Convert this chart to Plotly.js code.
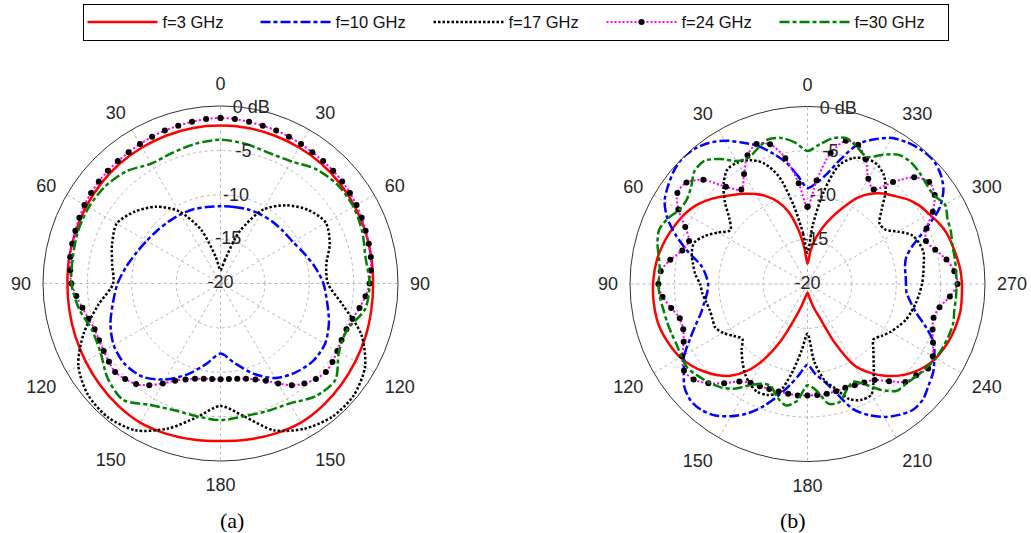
<!DOCTYPE html>
<html>
<head>
<meta charset="utf-8">
<script src="https://cdn.plot.ly/plotly-3.0.1.min.js"></script>
<style>
html,body{margin:0;padding:0;background:#ffffff;}
#chart{width:1031px;height:533px;}
</style>
</head>
<body>
<div id="chart"></div>
<script>
// ---------- categories / tick labels ----------
const angles10 = [0,10,20,30,40,50,60,70,80,90,100,110,120,130,140,150,160,170,180,190,200,210,220,230,240,250,260,270,280,290,300,310,320,330,340,350,360];
const angles5 = [0,5,10,15,20,25,30,35,40,45,50,55,60,65,70,75,80,85,90,95,100,105,110,115,120,125,130,135,140,145,150,155,160,165,170,175,180,185,190,195,200,205,210,215,220,225,230,235,240,245,250,255,260,265,270,275,280,285,290,295,300,305,310,315,320,325,330,335,340,345,350,355,360];
const angTickVals = [0,30,60,90,120,150,180,210,240,270,300,330];
const angTickTextA = ['0','30','60','90','120','150','180','150','120','90','60','30'];
const angTickTextB = ['0','30','60','90','120','150','180','210','240','270','300','330'];
const radialTicks = [-20,-15,-10,-5,0];
const radialTickText = ['-20','-15','-10','-5','0 dB'];
const seriesNames = ['f=3 GHz','f=10 GHz','f=17 GHz','f=24 GHz','f=30 GHz'];
const captions = ['(a)','(b)'];

// ---------- (a) values in dB ----------
const a3 = [-2.2,-2.2,-2.25,-2.3,-2.35,-2.45,-2.55,-2.65,-2.75,-2.8,-2.75,-2.6,-2.45,-2.25,-2.05,-1.9,-2.0,-2.15,-2.25,-2.15,-2.0,-1.9,-2.05,-2.25,-2.45,-2.6,-2.7,-2.75,-2.7,-2.65,-2.55,-2.45,-2.35,-2.3,-2.25,-2.2,-2.2];
const a10 = [-11.3,-11.25,-11.1,-11.0,-10.9,-10.8,-10.6,-10.0,-9.2,-8.4,-7.8,-7.0,-6.4,-6.4,-6.9,-7.7,-9.2,-10.9,-12.1,-10.8,-9.1,-7.5,-6.3,-5.9,-6.1,-6.8,-7.7,-8.4,-9.2,-9.9,-10.4,-10.7,-10.9,-11.0,-11.1,-11.25,-11.3];
const a17 = [-18.5,-17.4,-13.8,-10.4,-8.5,-7.1,-6.3,-6.9,-7.9,-7.9,-6.0,-3.1,-1.2,-0.4,-0.4,-1.1,-2.4,-4.8,-6.2,-4.7,-2.6,-0.9,-0.3,-0.5,-1.5,-3.6,-6.0,-7.9,-7.6,-7.0,-6.5,-7.4,-8.7,-10.6,-13.5,-17.0,-18.5];
const a24 = [-1.35,-1.4,-1.5,-1.6,-1.65,-1.75,-1.85,-1.95,-2.0,-2.05,-2.1,-2.2,-2.3,-2.45,-2.6,-2.7,-2.8,-3.0,-3.2,-3.6,-4.1,-4.6,-4.9,-4.95,-4.8,-4.6,-4.5,-4.8,-5.3,-6.0,-7.0,-7.9,-8.5,-8.9,-9.1,-9.2,-9.2,-9.2,-9.1,-8.9,-8.5,-7.9,-7.0,-6.0,-5.2,-4.8,-4.5,-4.65,-4.8,-4.9,-4.9,-4.6,-4.2,-3.7,-3.2,-3.0,-2.8,-2.7,-2.6,-2.45,-2.3,-2.2,-2.1,-2.05,-2.0,-1.95,-1.85,-1.75,-1.65,-1.6,-1.5,-1.4,-1.35];
const a30 = [-3.8,-4.0,-4.3,-4.1,-3.2,-2.75,-2.7,-3.0,-3.4,-3.2,-3.45,-4.8,-4.6,-3.1,-3.4,-4.4,-4.7,-4.8,-4.6,-4.8,-4.8,-4.2,-2.9,-3.4,-4.4,-4.6,-3.8,-3.2,-3.1,-2.9,-2.85,-3.0,-3.5,-4.4,-4.3,-4.0,-3.8];

// ---------- (b) values in dB ----------
const b3 = [-17.7,-15.9,-13.6,-11.5,-10.1,-9.1,-8.3,-7.6,-6.9,-6.1,-5.3,-4.6,-4.1,-3.75,-3.4,-3.1,-2.85,-2.7,-2.6,-2.55,-2.55,-2.6,-2.8,-3.1,-3.45,-4.0,-4.7,-5.5,-6.5,-8.0,-10.2,-13.0,-15.9,-17.5,-18.4,-18.8,-19.0,-18.8,-18.2,-17.2,-15.9,-12.6,-9.4,-7.8,-6.5,-5.4,-4.5,-3.8,-3.3,-3.0,-2.75,-2.6,-2.5,-2.55,-2.6,-2.7,-2.9,-3.1,-3.3,-3.7,-4.2,-4.6,-5.2,-6.0,-6.7,-7.6,-8.8,-10.5,-12.0,-13.4,-14.8,-16.3,-17.7];
const b10 = [-9.2,-7.8,-6.1,-4.75,-3.4,-2.4,-1.35,-0.6,-0.15,0,-0.3,-0.8,-1.4,-2.6,-4.3,-6.1,-7.8,-8.5,-8.8,-8.65,-8.2,-7.6,-6.6,-5.4,-4.0,-3.0,-1.9,-1.4,-1.45,-1.9,-2.8,-3.9,-5.3,-6.9,-8.4,-9.8,-10.9,-9.8,-8.8,-7.2,-5.0,-3.7,-2.7,-2.0,-1.5,-1.6,-2.2,-2.7,-3.5,-4.3,-5.8,-7.3,-8.2,-8.8,-8.9,-8.9,-8.85,-8.5,-7.4,-5.3,-2.8,-1.3,-0.5,-0.1,-0.2,-0.5,-1.0,-2.0,-3.2,-5.4,-7.4,-8.6,-9.2];
const b17 = [-16.5,-14.3,-11.0,-7.4,-5.5,-4.6,-4.2,-4.25,-5.3,-6.8,-8.5,-9.4,-8.4,-7.2,-6.4,-6.5,-6.9,-7.3,-7.9,-8.1,-8.4,-8.6,-8.6,-8.5,-9.0,-9.8,-10.4,-9.5,-8.6,-7.7,-7.0,-6.6,-6.7,-7.3,-9.8,-12.5,-14.4,-11.2,-9.0,-7.8,-6.2,-5.6,-5.6,-7.0,-8.4,-9.5,-10.3,-9.8,-9.2,-8.7,-8.2,-7.9,-7.6,-7.35,-7.1,-6.9,-6.7,-6.45,-6.6,-7.0,-8.2,-9.3,-9.4,-8.2,-6.3,-5.0,-4.4,-4.4,-4.9,-6.1,-9.4,-13.4,-16.5];
const b24 = [-11.3,-8.6,-5.6,-3.7,-3.2,-4.0,-5.7,-7.0,-5.7,-3.4,-2.2,-2.1,-3.2,-4.8,-5.8,-5.4,-4.3,-3.4,-3.2,-3.6,-4.4,-5.1,-5.1,-4.6,-3.7,-3.0,-3.25,-4.2,-5.4,-6.6,-7.15,-7.3,-7.4,-7.45,-7.45,-7.4,-7.45,-7.45,-7.45,-7.5,-7.55,-7.4,-7.2,-6.8,-5.7,-4.4,-4.0,-3.4,-3.7,-4.4,-5.0,-5.3,-4.9,-3.9,-3.1,-3.4,-4.1,-5.1,-5.8,-5.2,-3.7,-2.5,-2.1,-3.0,-5.0,-7.0,-6.3,-4.5,-3.3,-3.3,-5.0,-8.3,-11.3];
const b30 = [-5.0,-4.0,-3.3,-3.1,-3.7,-4.3,-4.0,-2.8,-1.9,-2.0,-2.9,-3.4,-3.3,-2.6,-2.2,-2.5,-3.0,-3.3,-3.2,-3.3,-3.5,-3.6,-3.7,-3.75,-3.6,-3.5,-3.9,-4.3,-4.8,-5.6,-6.8,-7.6,-7.8,-6.8,-6.1,-6.8,-8.6,-7.9,-6.3,-6.2,-7.2,-7.85,-6.9,-5.4,-4.3,-4.2,-3.9,-3.6,-3.3,-3.15,-3.05,-3.0,-3.2,-3.2,-3.2,-3.2,-3.15,-3.1,-2.8,-2.6,-2.1,-2.6,-2.5,-2.2,-2.0,-2.2,-3.2,-4.2,-3.6,-3.0,-3.3,-4.2,-5.0];

// ---------- styles ----------
const lineColors = ['#ff0000','#0000ff','#000000','#ff00ff','#008000'];
const lineDashes = ['solid','10px,3px,4px,3px','2.5px,2px','2px,2px','10px,3px,4px,3px'];
const lineWidths = [2.5,2.5,2.5,2,2.5];
const tickFont = {family:'Liberation Sans, Arial, sans-serif', size:18, color:'#262626'};

const seriesA = [[angles10,a3],[angles10,a10],[angles10,a17],[angles5,a24],[angles10,a30]];
const seriesB = [[angles5,b3],[angles5,b10],[angles5,b17],[angles5,b24],[angles5,b30]];

const traces = [];
function addSeries(list, subplot, showLegend){
  list.forEach(function(s, i){
    const t = {
      type:'scatterpolar', subplot:subplot,
      theta:s[0], r:s[1], name:seriesNames[i],
      mode: i===3 ? 'lines+markers' : 'lines',
      line:{color:lineColors[i], dash:lineDashes[i], width:lineWidths[i], shape:'spline', smoothing:0.8},
      showlegend:showLegend, legendgroup:'g'+i, hoverinfo:'skip'
    };
    if(i===3){ t.marker = {color:'#000000', size:6}; }
    traces.push(t);
  });
}
addSeries(seriesA, 'polar', true);
addSeries(seriesB, 'polar2', false);

// radial tick labels as text placed through the polar scales
traces.push({type:'scatterpolar', subplot:'polar', mode:'text', r:radialTicks,
  theta:radialTicks.map(function(){return 10;}), text:radialTickText,
  textposition:'middle center', textfont:tickFont, showlegend:false, hoverinfo:'skip', cliponaxis:false});
traces.push({type:'scatterpolar', subplot:'polar2', mode:'text', r:radialTicks,
  theta:radialTicks.map(function(){return 350;}), text:radialTickText,
  textposition:'middle center', textfont:tickFont, showlegend:false, hoverinfo:'skip', cliponaxis:false});

function polarLayout(domainX, domainY, dir, ticktext){
  return {
    domain:{x:domainX, y:domainY},
    bgcolor:'rgba(0,0,0,0)',
    radialaxis:{range:[-20,0], tickvals:[-15,-10,-5,0], showticklabels:false, ticks:'',
      showline:false, gridcolor:'#b8b8b8', griddash:'dot', gridwidth:1, angle:90},
    angularaxis:{rotation:90, direction:dir, tickmode:'array', tickvals:angTickVals, ticktext:ticktext,
      ticks:'outside', ticklen:8, tickcolor:'rgba(0,0,0,0)', showline:true, linecolor:'#333333', linewidth:1,
      gridcolor:'#b8b8b8', griddash:'dot', gridwidth:1, tickfont:tickFont}
  };
}

const layout = {
  width:1031, height:533,
  margin:{l:0, r:0, t:0, b:0},
  paper_bgcolor:'#ffffff', plot_bgcolor:'#ffffff',
  showlegend:true,
  legend:{orientation:'h', x:0.5, xanchor:'center', y:0.993, yanchor:'top',
    bordercolor:'#000000', borderwidth:1, bgcolor:'#ffffff',
    font:{family:'Liberation Sans, Arial, sans-serif', size:16.5, color:'#111111'},
    entrywidth:88, itemwidth:70, tracegroupgap:0},
  polar: polarLayout([43/1031, 398/1031], [72/533, 427/533], 'clockwise', angTickTextA),
  polar2: polarLayout([630/1031, 985/1031], [71.5/533, 426.5/533], 'counterclockwise', angTickTextB),
  annotations:[
    {text:captions[0], xref:'paper', yref:'paper', x:218/1031, y:13/533, yanchor:'middle', showarrow:false,
     font:{family:'Liberation Serif, Times New Roman, serif', size:22, color:'#000'}},
    {text:captions[1], xref:'paper', yref:'paper', x:807.5/1031, y:13/533, yanchor:'middle', showarrow:false,
     font:{family:'Liberation Serif, Times New Roman, serif', size:22, color:'#000'}}
  ]
};

Plotly.newPlot('chart', traces, layout, {displayModeBar:false, staticPlot:true});
</script>
</body>
</html>
